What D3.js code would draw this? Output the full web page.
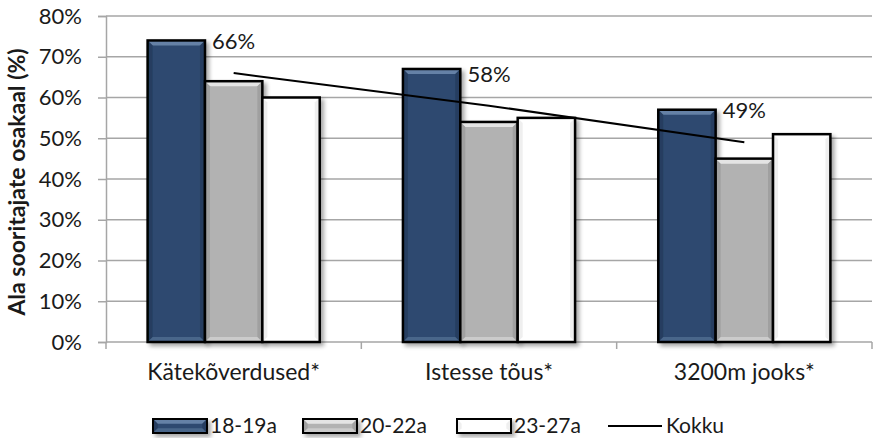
<!DOCTYPE html>
<html>
<head>
<meta charset="utf-8">
<script src="https://cdn.jsdelivr.net/npm/d3@7"></script>
<style>
  html, body { margin: 0; padding: 0; background: #fff; }
  svg { display: block; font-family: Lato, "Open Sans", sans-serif; }
  text { fill: #1a1a1a; }
</style>
</head>
<body>
<svg id="chart" width="878" height="439"></svg>
<script>
// ---- data ----
const categories = ["Kätekõverdused*", "Istesse tõus*", "3200m jooks*"];
const seriesNames = ["18-19a", "20-22a", "23-27a"];
const values1819 = [74, 67, 57];
const values2022 = [64, 54, 45];
const values2327 = [60, 55, 51];
const kokkuName = "Kokku";
const kokkuValues = [66, 58, 49];
const yTicks = [0, 10, 20, 30, 40, 50, 60, 70, 80];
const yTitle = "Ala sooritajate osakaal (%)";

// ---- styles ----
const colors = ["#2e4a6f", "#b2b2b2", "#ffffff"];
const bevelTop = ["#6581a6", "#e4e4e4", "#ffffff"];
const bevelSide = ["#22395a", "#999999", "#e8e8e8"];

const svg = d3.select("#chart");
const plot = { left: 106, right: 872, top: 16, bottom: 342 };

const x0 = d3.scaleBand().domain(categories).range([plot.left, plot.right]).padding(0);
const gap = 1.45;
const barW = x0.bandwidth() / (3 + gap);
const x1 = d3.scaleBand().domain(seriesNames).range([0, barW * 3]).padding(0);
const groupOffset = (x0.bandwidth() - barW * 3) / 2;
const y = d3.scaleLinear().domain([0, 80]).range([plot.bottom, plot.top]);

const defs = svg.append("defs");
const f = defs.append("filter").attr("id", "shadow").attr("x", "-20%").attr("y", "-20%").attr("width", "150%").attr("height", "150%");
f.append("feGaussianBlur").attr("in", "SourceAlpha").attr("stdDeviation", 2.2).attr("result", "b");
f.append("feOffset").attr("in", "b").attr("dx", 2.5).attr("dy", 3).attr("result", "o");
f.append("feComponentTransfer").attr("in", "o").attr("result", "o2")
  .append("feFuncA").attr("type", "linear").attr("slope", 0.35);
const fm = f.append("feMerge");
fm.append("feMergeNode").attr("in", "o2");
fm.append("feMergeNode").attr("in", "SourceGraphic");

// gridlines
const gridG = svg.append("g");
gridG.selectAll("line").data(yTicks.filter(d => d > 0)).join("line")
  .attr("x1", plot.left).attr("x2", plot.right)
  .attr("y1", d => y(d)).attr("y2", d => y(d))
  .attr("stroke", "#a6a6a6").attr("stroke-width", 1.5);

// y axis
const yAxis = d3.axisLeft(y).tickValues(yTicks).tickFormat(d => d + "%").tickSize(8).tickPadding(16);
const yg = svg.append("g").attr("transform", `translate(${plot.left},0)`).call(yAxis);
yg.select(".domain").attr("stroke", "#a6a6a6").attr("stroke-width", 1.5);
yg.selectAll(".tick line").attr("stroke", "#a6a6a6").attr("stroke-width", 1.5);
yg.selectAll(".tick text").attr("font-size", 22).attr("fill", "#1a1a1a").attr("font-family", "Lato, sans-serif");

// x axis
const boundaries = categories.map(c => x0(c)).concat([plot.right]);
const xg = svg.append("g");
xg.append("line").attr("x1", plot.left).attr("x2", plot.right).attr("y1", plot.bottom).attr("y2", plot.bottom)
  .attr("stroke", "#a6a6a6").attr("stroke-width", 1.5);
xg.selectAll("line.tk").data(boundaries).join("line").attr("class", "tk")
  .attr("x1", d => d).attr("x2", d => d).attr("y1", plot.bottom).attr("y2", plot.bottom + 7)
  .attr("stroke", "#a6a6a6").attr("stroke-width", 1.5);
xg.selectAll("text").data(categories).join("text")
  .attr("x", d => x0(d) + x0.bandwidth() / 2).attr("y", 380)
  .attr("text-anchor", "middle").attr("font-size", 23).text(d => d);

// bars
const seriesVals = [values1819, values2022, values2327];
const barData = [];
categories.forEach((c, i) => {
  seriesNames.forEach((s, j) => {
    barData.push({ c, s, j, v: seriesVals[j][i] });
  });
});

function drawBeveledBox(g, x, yTop, w, h, j, bw) {
  const b = Math.min(5, h / 3);
  g.append("rect").attr("x", x).attr("y", yTop).attr("width", w).attr("height", h).attr("fill", colors[j]);
  g.append("polygon").attr("points", [[x, yTop], [x + w, yTop], [x + w - b, yTop + b], [x + b, yTop + b]].join(" "))
    .attr("fill", bevelTop[j]);
  g.append("polygon").attr("points", [[x, yTop], [x + b, yTop + b], [x + b, yTop + h - b], [x, yTop + h]].join(" "))
    .attr("fill", bevelSide[j]).attr("opacity", 0.7);
  g.append("polygon").attr("points", [[x + w, yTop], [x + w - b, yTop + b], [x + w - b, yTop + h - b], [x + w, yTop + h]].join(" "))
    .attr("fill", bevelSide[j]).attr("opacity", 0.7);
  g.append("polygon").attr("points", [[x, yTop + h], [x + b, yTop + h - b], [x + w - b, yTop + h - b], [x + w, yTop + h]].join(" "))
    .attr("fill", bevelTop[j]).attr("opacity", 0.5);
  g.append("rect").attr("x", x).attr("y", yTop).attr("width", w).attr("height", h)
    .attr("fill", "none").attr("stroke", "#000").attr("stroke-width", bw);
}

const barsG = svg.append("g");
barData.forEach(d => {
  const g = barsG.append("g").attr("filter", "url(#shadow)");
  const bx = x0(d.c) + groupOffset + x1(d.s);
  drawBeveledBox(g, bx, y(d.v), x1.bandwidth(), y(0) - y(d.v), d.j, 2.5);
});

// Kokku line
const pts = categories.map((c, i) => [x0(c) + x0.bandwidth() / 2, y(kokkuValues[i])]);
svg.append("path").attr("d", d3.line()(pts)).attr("fill", "none").attr("stroke", "#000").attr("stroke-width", 2);
svg.append("g").selectAll("text").data(categories).join("text")
  .attr("x", (c, i) => x0(c) + x0.bandwidth() / 2)
  .attr("y", (c, i) => y(kokkuValues[i]) - 24)
  .attr("text-anchor", "middle").attr("font-size", 22)
  .text((c, i) => kokkuValues[i] + "%");

// y title
svg.append("text").attr("transform", `translate(25,182) rotate(-90)`)
  .attr("text-anchor", "middle").attr("font-size", 23).attr("font-weight", "bold").text(yTitle);

// legend
const legX = [153, 303, 457];
const legG = svg.append("g");
seriesNames.forEach((s, j) => {
  const g = legG.append("g").attr("filter", "url(#shadow)");
  drawBeveledBox(g, legX[j], 419, 54, 14, j, 2);
  legG.append("text").attr("x", legX[j] + 57).attr("y", 433).attr("font-size", 21).text(s);
});
legG.append("line").attr("x1", 608).attr("x2", 662).attr("y1", 426).attr("y2", 426).attr("stroke", "#000").attr("stroke-width", 2);
legG.append("text").attr("x", 666).attr("y", 433).attr("font-size", 21).text(kokkuName);
</script>
</body>
</html>
